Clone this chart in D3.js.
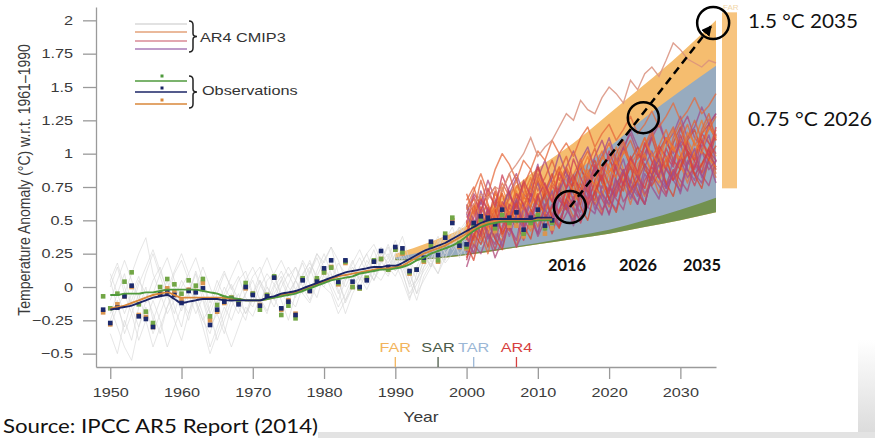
<!DOCTYPE html>
<html><head><meta charset="utf-8">
<script src="https://cdn.jsdelivr.net/npm/d3@7"></script>
<style>body{margin:0;background:#fff}svg{display:block}</style>
</head><body>
<svg id="c" width="875" height="438"></svg>
<script>
// ---------------- DATA ----------------
const xTicks = [1950,1960,1970,1980,1990,2000,2010,2020,2030];
const yTicks = [-0.5,-0.25,0,0.25,0.5,0.75,1,1.25,1.5,1.75,2];

// Projection ranges of earlier assessments (FAR, SAR, TAR)
const rangeYears = [1990,1995,2000,2005,2010,2015,2020,2025,2030,2035];
const farUpper = [0.25,0.34,0.46,0.67,0.89,1.08,1.30,1.52,1.75,2.00];
const farLower = [0.20,0.21,0.24,0.28,0.32,0.36,0.40,0.45,0.50,0.56];
const sarUpper = [0.22,0.26,0.32,0.40,0.50,0.60,0.70,0.80,0.90,1.00];
const sarLower = [0.20,0.21,0.24,0.28,0.32,0.36,0.40,0.45,0.50,0.56];
const tarUpper = [0.22,0.28,0.36,0.48,0.65,0.85,1.05,1.27,1.47,1.66];
const tarLower = [0.21,0.22,0.25,0.29,0.33,0.38,0.43,0.50,0.58,0.67];
const farBar2035 = [0.74, 2.06];

// Assessment reports: year marks on the axis
const reportNames = ["FAR","SAR","TAR","AR4"];
const reportYears = [1990,1996,2001,2007];

// CMIP3 20th-century runs (grey), 1950-2010
const grayStart = 1950;
const grayRuns = [
 [-0.20,-0.05,0.10,-0.15,-0.30,-0.10,0.05,0.15,-0.05,-0.20,0.00,0.10,-0.10,-0.25,-0.35,-0.15,0.00,-0.10,0.05,0.12,-0.05,-0.15,0.05,0.10,-0.08,0.02,0.15,0.05,-0.05,0.12,0.25,0.10,-0.05,0.08,0.20,0.05,0.15,0.28,0.12,0.22,0.35,0.20,0.00,0.05,0.20,0.30,0.18,0.35,0.45,0.30,0.40,0.50,0.35,0.45,0.55,0.42,0.50,0.60,0.45,0.52,0.62],
 [0.05,-0.15,-0.30,-0.10,0.05,-0.05,-0.20,-0.35,-0.15,0.00,-0.10,-0.25,-0.05,0.08,-0.20,-0.40,-0.25,-0.10,-0.20,-0.05,0.05,-0.10,-0.20,0.00,0.08,-0.05,0.05,0.18,0.02,-0.08,0.10,0.20,0.05,-0.10,0.05,0.15,0.25,0.10,0.20,0.32,0.18,0.05,-0.10,0.10,0.25,0.15,0.30,0.20,0.38,0.45,0.30,0.42,0.55,0.40,0.35,0.50,0.58,0.45,0.40,0.55,0.48],
 [-0.35,-0.50,-0.25,-0.40,-0.15,0.00,-0.25,-0.10,0.05,-0.15,-0.30,-0.05,0.10,-0.10,-0.30,-0.20,-0.35,-0.15,-0.05,-0.20,-0.10,0.05,-0.05,-0.15,0.00,0.10,-0.02,0.08,0.20,0.05,0.00,0.15,0.05,-0.12,0.00,0.10,0.02,0.15,0.28,0.15,0.25,0.10,-0.05,0.05,0.15,0.28,0.38,0.25,0.32,0.45,0.35,0.28,0.42,0.52,0.40,0.48,0.38,0.55,0.62,0.50,0.58],
 [0.00,0.15,-0.05,0.10,0.25,0.37,0.10,-0.05,-0.20,-0.10,0.05,-0.05,0.12,-0.05,-0.20,-0.05,0.10,0.00,-0.15,-0.05,0.08,0.15,0.00,-0.10,0.05,0.15,0.05,-0.05,0.10,0.22,0.08,0.02,-0.10,0.05,0.18,0.28,0.15,0.05,0.20,0.30,0.15,0.25,0.12,-0.05,0.15,0.22,0.30,0.40,0.28,0.36,0.48,0.35,0.45,0.38,0.52,0.44,0.58,0.48,0.55,0.65,0.50],
 [-0.15,-0.30,-0.45,-0.55,-0.30,-0.15,-0.35,-0.20,-0.05,-0.25,-0.40,-0.20,-0.05,-0.20,-0.45,-0.30,-0.15,-0.25,-0.10,-0.20,-0.05,-0.12,0.00,-0.08,-0.20,-0.05,0.05,-0.05,-0.12,0.02,0.12,-0.02,-0.15,-0.05,0.08,0.00,0.12,0.05,0.15,0.08,0.20,0.12,-0.08,0.02,0.12,0.20,0.10,0.22,0.35,0.25,0.32,0.42,0.30,0.38,0.48,0.35,0.45,0.52,0.42,0.55,0.46],
 [-0.10,0.05,0.20,0.05,-0.10,0.10,0.25,0.08,-0.08,0.10,0.20,0.05,-0.10,-0.25,-0.15,0.00,0.12,-0.02,0.08,-0.08,-0.15,0.00,0.10,0.02,0.12,0.00,-0.08,0.10,0.18,0.08,0.20,0.30,0.10,0.00,0.12,0.22,0.10,0.20,0.30,0.22,0.12,0.28,0.18,0.05,0.20,0.35,0.25,0.38,0.30,0.45,0.38,0.50,0.42,0.55,0.48,0.40,0.52,0.60,0.50,0.45,0.58],
 [-0.25,-0.10,-0.35,-0.20,-0.05,-0.25,-0.45,-0.30,-0.15,-0.05,-0.18,0.00,-0.12,-0.30,-0.50,-0.35,-0.20,-0.05,-0.15,-0.25,-0.05,0.05,-0.10,0.02,-0.10,-0.25,-0.05,0.05,0.15,0.00,0.05,0.10,-0.02,-0.20,-0.05,0.05,0.15,0.05,0.18,0.25,0.12,0.22,0.05,-0.10,0.08,0.18,0.10,0.28,0.40,0.22,0.35,0.28,0.40,0.50,0.42,0.35,0.48,0.55,0.45,0.60,0.52],
 [0.10,-0.05,-0.20,-0.05,0.08,-0.12,-0.05,0.10,0.22,0.05,-0.10,-0.20,0.00,0.15,0.00,-0.15,-0.05,0.08,0.20,0.05,-0.05,0.10,0.22,0.08,-0.05,-0.12,0.05,0.20,0.10,0.25,0.15,0.05,0.18,0.10,0.02,0.15,0.25,0.32,0.20,0.10,0.25,0.38,0.20,0.10,0.25,0.15,0.32,0.40,0.30,0.38,0.48,0.40,0.35,0.45,0.52,0.58,0.45,0.50,0.62,0.52,0.58],
 [-0.30,-0.15,-0.05,-0.20,-0.40,-0.25,-0.10,-0.25,-0.45,-0.30,-0.15,-0.05,-0.20,-0.08,-0.25,-0.10,-0.30,-0.45,-0.30,-0.15,-0.22,-0.08,-0.18,-0.05,0.05,-0.08,-0.15,0.00,-0.10,0.05,0.00,-0.05,-0.20,-0.10,0.00,0.08,-0.02,0.10,0.05,0.15,0.08,0.20,0.10,-0.05,0.05,0.15,0.28,0.18,0.25,0.35,0.22,0.30,0.40,0.32,0.45,0.38,0.42,0.50,0.40,0.48,0.55],
 [0.05,0.18,0.00,-0.15,0.02,0.15,0.28,0.12,-0.02,0.12,0.25,0.10,0.22,0.05,-0.12,0.05,-0.08,0.02,-0.10,0.05,0.15,0.02,-0.08,0.10,0.20,0.08,0.15,0.00,0.12,0.25,0.18,0.30,0.20,0.05,0.15,0.05,0.20,0.12,0.25,0.18,0.30,0.15,0.02,0.15,0.28,0.20,0.35,0.25,0.32,0.42,0.50,0.38,0.45,0.40,0.50,0.55,0.48,0.60,0.52,0.58,0.62]
];

// AR4 CMIP3 projections, 2000-2035
const ar4Start = 2000;
const ar4Runs = [
 [.35,.62,.48,.30,.55,.70,.52,.45,.68,.60,.80,.66,.52,.75,.88,.70,.62,.85,.95,.78,.70,.92,1.05,.90,.82,1.00,1.12,.95,.88,1.08,1.20,1.02,.95,1.15,1.22,1.10],
 [.50,.30,.55,.62,.40,.35,.60,.72,.50,.42,.58,.75,.68,.50,.62,.80,.74,.60,.72,.90,.84,.70,.78,.98,.86,.74,.92,1.05,.96,.82,.95,1.10,1.00,.90,1.05,1.18],
 [.60,.45,.72,.55,.65,.48,.70,.82,.60,.75,.92,.70,.82,1.00,.85,.78,.95,1.05,.88,.98,1.12,.95,1.02,1.18,1.05,.98,1.15,1.25,1.08,1.15,1.28,1.12,1.20,1.35,1.22,1.30],
 [.20,.38,.55,.42,.28,.45,.60,.48,.35,.52,.66,.55,.40,.58,.72,.60,.48,.65,.78,.66,.55,.72,.85,.74,.62,.80,.90,.82,.70,.86,.98,.88,.76,.92,1.02,.95],
 [.45,.58,.40,.25,.48,.62,.45,.30,.55,.70,.58,.42,.60,.78,.62,.48,.68,.85,.70,.55,.75,.90,.78,.62,.82,.98,.85,.70,.90,1.05,.92,.78,.95,1.10,1.00,.85],
 [.55,.70,.62,.80,.66,.58,.75,.85,.70,.64,.82,.95,.78,.72,.90,1.02,.88,.80,.98,1.10,.95,.88,1.05,1.15,1.00,.95,1.12,1.22,1.08,1.00,1.18,1.28,1.12,1.05,1.22,1.30],
 [.30,.48,.35,.52,.60,.38,.55,.65,.48,.58,.45,.62,.70,.55,.65,.52,.68,.76,.62,.72,.60,.78,.85,.70,.80,.68,.85,.92,.78,.88,.75,.92,1.00,.85,.95,.82],
 [.48,.35,.60,.50,.72,.55,.42,.65,.78,.58,.50,.72,.85,.65,.58,.80,.92,.72,.65,.88,.98,.80,.72,.95,1.05,.88,.80,1.02,1.12,.95,.88,1.10,1.18,1.02,.95,1.15],
 [.40,.55,.68,.45,.52,.75,.60,.50,.70,.82,.65,.58,.78,.90,.72,.66,.85,.98,.80,.74,.92,1.05,.88,.80,.98,1.12,.95,.86,1.05,1.18,1.00,.92,1.10,1.25,1.08,.98],
 [.62,.50,.40,.58,.45,.52,.38,.55,.62,.45,.68,.55,.48,.66,.58,.50,.72,.60,.55,.76,.66,.58,.80,.70,.62,.85,.75,.66,.90,.80,.72,.95,.85,.78,1.00,.90],
 [.28,.45,.38,.60,.50,.42,.62,.56,.48,.70,.62,.55,.76,.68,.60,.82,.74,.66,.88,.80,.72,.94,.86,.78,1.00,.92,.84,1.06,.98,.90,1.10,1.02,.95,1.15,1.08,1.00],
 [.52,.62,.45,.68,.75,.58,.66,.80,.62,.72,.85,.68,.78,.90,.75,.84,.96,.80,.90,1.02,.86,.95,1.08,.92,1.00,1.12,.98,1.06,1.18,1.02,1.10,1.22,1.06,1.15,1.26,1.12],
 [.38,.25,.50,.40,.32,.55,.45,.35,.60,.50,.40,.62,.55,.45,.66,.58,.50,.70,.62,.54,.75,.66,.58,.80,.70,.62,.84,.76,.68,.88,.80,.72,.92,.84,.76,.95],
 [.65,.75,.58,.70,.62,.78,.68,.60,.76,.88,.72,.82,.95,.80,.90,.78,.92,1.02,.88,.96,1.08,.92,1.00,1.10,.96,1.05,1.15,1.00,1.10,1.20,1.05,1.12,1.25,1.10,1.18,1.28],
 [.22,.40,.32,.46,.58,.40,.50,.62,.45,.55,.70,.52,.60,.74,.58,.66,.78,.62,.70,.84,.66,.75,.88,.72,.80,.92,.76,.85,.96,.80,.88,1.00,.84,.92,1.04,.88],
 [.45,.60,.52,.38,.62,.70,.56,.48,.68,.76,.62,.55,.75,.82,.68,.60,.80,.88,.74,.68,.86,.94,.80,.72,.92,1.00,.86,.78,.96,1.06,.90,.84,1.02,1.10,.96,.90],
 [.55,.42,.65,.48,.36,.60,.72,.52,.44,.66,.78,.58,.50,.72,.84,.64,.56,.78,.90,.70,.62,.84,.96,.76,.68,.90,1.02,.82,.74,.96,1.08,.88,.80,1.02,1.14,.94],
 [.42,.52,.66,.58,.44,.64,.54,.70,.62,.50,.68,.78,.64,.56,.74,.84,.70,.62,.80,.90,.76,.68,.86,.96,.82,.74,.92,1.02,.88,.80,.98,1.08,.94,.86,1.04,1.14],
 [.60,.72,.85,.70,.88,1.00,.92,.80,.95,.88,1.02,.95,1.10,1.00,1.08,.98,1.12,1.20,1.05,1.15,1.22,1.10,1.18,1.28,1.15,1.22,1.32,1.20,1.28,1.38,1.25,1.32,1.42,1.30,1.36,1.45],
 [.15,.32,.25,.40,.22,.35,.48,.30,.42,.55,.38,.50,.62,.45,.55,.68,.52,.60,.72,.58,.66,.80,.64,.72,.85,.70,.78,.92,.76,.84,.96,.82,.90,1.02,.88,.95],
 [.70,.55,.80,.62,.50,.72,.85,.66,.58,.78,.90,.72,.64,.86,.98,.80,.70,.92,1.04,.86,.78,1.00,1.10,.92,.84,1.06,1.18,.98,.90,1.12,1.24,1.05,.96,1.18,1.30,1.10],
 [.32,.20,.42,.55,.36,.28,.50,.64,.46,.36,.58,.70,.52,.44,.66,.78,.60,.50,.72,.84,.66,.56,.78,.90,.72,.62,.84,.96,.78,.68,.90,1.02,.84,.74,.96,1.06],
 [.58,.66,.52,.44,.70,.62,.54,.76,.68,.60,.82,.74,.66,.88,.80,.72,.92,.84,.76,.98,.90,.82,1.02,.94,.86,1.08,1.00,.92,1.12,1.04,.96,1.16,1.08,1.00,1.20,1.12],
 [.26,.44,.58,.36,.46,.30,.52,.66,.44,.56,.40,.60,.72,.50,.62,.46,.68,.80,.58,.70,.54,.76,.88,.66,.78,.62,.84,.96,.74,.86,.70,.92,1.04,.82,.94,.78],
 [.48,.68,.56,.74,.60,.84,.70,.58,.80,.68,.90,.76,.64,.86,.74,.96,.82,.70,.92,.80,1.02,.88,.76,.98,.86,1.08,.94,.82,1.04,.92,1.14,1.00,.88,1.10,.98,1.20]
];
const ar4Outlier = [.55,.62,.70,.66,.75,.72,.85,.92,1.00,1.12,.98,1.05,1.10,1.20,1.30,1.25,1.40,1.33,1.30,1.42,1.50,1.45,1.38,1.55,1.48,1.60,1.65,1.58,1.70,1.83,1.78,1.71,1.68,1.65,1.70,1.68];

// Observations (annual), 1949-2012
const obsStart = 1949;
const obsGreen = [-0.07,-0.16,-0.05,0.04,0.11,-0.13,-0.185,-0.27,0.00,0.06,0.02,-0.05,0.05,0.01,0.06,-0.22,-0.135,-0.08,-0.08,-0.10,0.03,-0.05,-0.17,-0.06,0.08,-0.21,-0.14,-0.235,0.065,-0.02,0.065,0.11,0.145,0.03,0.19,0.00,-0.01,0.07,0.20,0.21,0.13,0.28,0.26,0.11,0.13,0.20,0.31,0.20,0.40,0.52,0.33,0.30,0.46,0.50,0.50,0.44,0.54,0.48,0.50,0.40,0.48,0.54,0.44,0.48];
const obsOrange = [-0.19,-0.28,-0.13,-0.07,0.00,-0.21,-0.225,-0.30,-0.05,-0.01,-0.04,-0.10,-0.02,-0.03,0.03,-0.25,-0.185,-0.12,-0.08,-0.12,-0.01,-0.05,-0.135,-0.06,0.07,-0.17,-0.10,-0.20,0.06,-0.03,0.05,0.11,0.15,0.02,0.18,0.00,-0.01,0.06,0.19,0.21,0.13,0.28,0.25,0.10,0.13,0.19,0.31,0.19,0.38,0.50,0.30,0.29,0.44,0.48,0.48,0.42,0.50,0.46,0.46,0.38,0.46,0.52,0.40,0.44];
const obsBlue = [-0.17,-0.27,-0.155,-0.07,0.01,-0.22,-0.24,-0.30,-0.05,-0.04,-0.06,-0.12,-0.03,-0.04,-0.01,-0.285,-0.17,-0.11,-0.09,-0.13,0.00,-0.06,-0.14,-0.07,0.07,-0.16,-0.11,-0.21,0.05,-0.03,0.04,0.14,0.20,0.04,0.20,0.04,0.00,0.05,0.19,0.27,0.15,0.30,0.29,0.12,0.13,0.22,0.34,0.24,0.37,0.48,0.31,0.32,0.48,0.53,0.52,0.47,0.58,0.52,0.56,0.43,0.52,0.58,0.46,0.50];

// Observations (smoothed), 1950-2012
const smoothStart = 1950;
const smoothGreen = [-0.06,-0.06,-0.05,-0.05,-0.05,-0.04,-0.04,-0.03,-0.02,-0.02,-0.02,-0.02,-0.02,-0.03,-0.04,-0.05,-0.07,-0.08,-0.09,-0.10,-0.10,-0.10,-0.09,-0.08,-0.07,-0.06,-0.05,-0.03,-0.01,0.01,0.03,0.05,0.06,0.07,0.08,0.10,0.11,0.12,0.13,0.13,0.14,0.15,0.17,0.20,0.22,0.25,0.27,0.29,0.31,0.34,0.38,0.42,0.45,0.47,0.48,0.49,0.49,0.49,0.49,0.49,0.50,0.50,0.50];
const smoothBlue = [-0.17,-0.16,-0.15,-0.14,-0.12,-0.10,-0.08,-0.07,-0.06,-0.09,-0.12,-0.11,-0.10,-0.09,-0.09,-0.09,-0.10,-0.10,-0.10,-0.10,-0.10,-0.10,-0.08,-0.07,-0.05,-0.04,-0.03,-0.01,0.01,0.03,0.05,0.07,0.09,0.11,0.12,0.13,0.14,0.15,0.15,0.16,0.16,0.18,0.21,0.24,0.27,0.29,0.31,0.33,0.36,0.39,0.42,0.45,0.48,0.50,0.51,0.51,0.51,0.51,0.51,0.51,0.52,0.52,0.52];
const smoothOrange = [-0.16,-0.15,-0.14,-0.12,-0.10,-0.08,-0.06,-0.05,-0.04,-0.06,-0.08,-0.08,-0.08,-0.08,-0.08,-0.08,-0.08,-0.09,-0.09,-0.10,-0.10,-0.10,-0.09,-0.08,-0.06,-0.05,-0.04,-0.02,0.00,0.02,0.04,0.06,0.08,0.09,0.10,0.11,0.12,0.13,0.14,0.14,0.15,0.16,0.19,0.22,0.25,0.27,0.29,0.31,0.34,0.37,0.40,0.43,0.46,0.48,0.49,0.50,0.50,0.50,0.50,0.50,0.50,0.51,0.51];

// Annotation markers (year, anomaly)
const markYears = [2014.5, 2024.8, 2034.6];
const markValues = [0.60, 1.27, 1.98];

// ---------------- CHART ----------------
const svg = d3.select("#c");
const FONT = "'Liberation Sans', Arial, Helvetica, sans-serif";
const SX = 1.25; // horizontal stretch of the original picture's lettering
const x = d3.scaleLinear().domain([1948, 2035]).range([96, 716]);
const y = d3.scaleLinear().domain([-0.6, 2.1]).range([367, 7]);

// background bands (slide frame)
const defs = svg.append("defs");
const grad = defs.append("linearGradient").attr("id","edge").attr("x1",0).attr("y1",0).attr("x2",0).attr("y2",1);
grad.append("stop").attr("offset","0%").attr("stop-color","#ffffff");
grad.append("stop").attr("offset","100%").attr("stop-color","#dcdcdc");
svg.append("rect").attr("x",858).attr("y",340).attr("width",17).attr("height",92).attr("fill","url(#edge)");
svg.append("rect").attr("x",318).attr("y",432).attr("width",557).attr("height",6).attr("fill","#e3e3e3");

// shaded projection ranges
function band(upper, lower) {
  return d3.area().x((d,i)=>x(rangeYears[i])).y0((d,i)=>y(lower[i])).y1((d,i)=>y(upper[i])).curve(d3.curveMonotoneX)(upper);
}
svg.append("path").attr("d", band(farUpper, farLower)).attr("fill", "#f5bd6f");
svg.append("path").attr("d", band(sarUpper, sarLower)).attr("fill", "#72914f");
svg.append("path").attr("d", band(tarUpper, tarLower)).attr("fill", "#97abbf");
// FAR bar at 2035
svg.append("rect").attr("x", x(2035)+6).attr("width", 15)
  .attr("y", y(farBar2035[1])).attr("height", y(farBar2035[0]) - y(farBar2035[1]))
  .attr("fill", "#f7c47f");
svg.append("text").attr("x", x(2035)+7).attr("y", 10).attr("font-family", FONT)
  .attr("font-size", 8).attr("fill", "#f2d6a8").text("FAR");

// grey CMIP3 runs
const gLine = start => d3.line().x((d,i)=>x(start+i)).y(d=>y(d));
svg.append("g").selectAll("path").data(grayRuns).join("path")
  .attr("d", gLine(grayStart)).attr("fill","none")
  .attr("stroke","#d6d6d6").attr("stroke-opacity",0.6).attr("stroke-width",1);

// AR4 runs
const ar4Palette = ["#d8452f","#ee7a32","#9c4f8f","#cc3f55","#e56a3c","#b0487a","#e0603a"];
svg.append("g").selectAll("path").data(ar4Runs).join("path")
  .attr("d", gLine(ar4Start)).attr("fill","none")
  .attr("stroke",(d,i)=>ar4Palette[i % ar4Palette.length])
  .attr("stroke-opacity",0.75).attr("stroke-width",1.5).attr("stroke-linejoin","round");
svg.append("path").datum(ar4Outlier).attr("d", gLine(ar4Start)).attr("fill","none")
  .attr("stroke","#d9907e").attr("stroke-opacity",0.85).attr("stroke-width",1.4);

// observations: squares
const sq = 4.6;
[[obsOrange,"#d99550"],[obsGreen,"#72a646"],[obsBlue,"#1c2a6e"]].forEach(([arr,col])=>{
  svg.append("g").selectAll("rect").data(arr).join("rect")
    .attr("x",(d,i)=>x(obsStart+i)-sq/2).attr("y",d=>y(d)-sq/2)
    .attr("width",sq).attr("height",sq).attr("fill",col);
});
// observations: smoothed lines
[[smoothOrange,"#d9873a"],[smoothGreen,"#4f9a3c"],[smoothBlue,"#1b2466"]].forEach(([arr,col])=>{
  svg.append("path").datum(arr).attr("d", gLine(smoothStart).curve(d3.curveMonotoneX))
    .attr("fill","none").attr("stroke",col).attr("stroke-width",1.9);
});

// axes
const axisCol = "#9a9a9a", txtCol = "#3a3a3a";
const gx = svg.append("g").attr("transform","translate(0,367)")
  .call(d3.axisBottom(x).tickValues(xTicks).tickFormat(d3.format("d")).tickSize(12).tickPadding(9).tickSizeOuter(0));
const gy = svg.append("g").attr("transform","translate(96,0)")
  .call(d3.axisLeft(y).tickValues(yTicks).tickSize(13).tickPadding(10).tickSizeOuter(0)
    .tickFormat(d => (d < 0 ? "\u2212" : "") + Math.abs(d)));
[gx, gy].forEach(g => {
  g.select(".domain").attr("stroke", axisCol).attr("stroke-width", 1.3);
  g.selectAll(".tick line").attr("stroke", axisCol).attr("stroke-width", 1.3);
  g.selectAll("text").attr("font-family", FONT).attr("font-size", 13).attr("fill", txtCol);
});
gx.selectAll("text").attr("transform", `scale(${SX},1)`);
gy.selectAll("text").attr("x", -23 / SX).attr("transform", `scale(${SX},1)`);

// axis titles
function sText(px, py, str, opts = {}) {
  return svg.append("text").attr("x", px / SX).attr("y", py)
    .attr("transform", `scale(${SX},1)`).attr("font-family", FONT)
    .attr("font-size", opts.size || 13).attr("fill", opts.fill || txtCol)
    .attr("text-anchor", opts.anchor || "start").text(str);
}
sText(421, 422, "Year", {size: 14, anchor: "middle"});
svg.append("text").attr("transform", "translate(30,180) rotate(-90) scale(1,1.2)")
  .attr("text-anchor","middle").attr("font-family",FONT).attr("font-size",14)
  .attr("fill",txtCol).text("Temperature Anomaly (\u00B0C) w.r.t. 1961\u20131990");

// assessment report markers
const reportCols = ["#f2b45c","#4b5a48","#9bb7d6","#d64040"];
reportYears.forEach((yr,i)=>{
  svg.append("line").attr("x1",x(yr)).attr("x2",x(yr)).attr("y1",357).attr("y2",367)
    .attr("stroke",reportCols[i]).attr("stroke-width",1.3);
  sText(x(yr), 352, reportNames[i], {anchor:"middle", fill: reportCols[i]});
});

// legend
const lx0 = 135, lx1 = 187;
const legAR4 = [["#d9d9d9",24],["#e3a27a",32],["#d98a96",41],["#a97bb9",49]];
legAR4.forEach(([c,ly]) => svg.append("line").attr("x1",lx0).attr("x2",lx1).attr("y1",ly).attr("y2",ly)
  .attr("stroke",c).attr("stroke-width",1.6));
const legObs = [["#4f9a3c",81,76],["#1b2466",92,88],["#d9873a",104,100]];
legObs.forEach(([c,ly,dy]) => {
  svg.append("line").attr("x1",lx0).attr("x2",lx1).attr("y1",ly).attr("y2",ly).attr("stroke",c).attr("stroke-width",1.6);
  svg.append("rect").attr("x",160.5).attr("y",dy-1.5).attr("width",3).attr("height",3).attr("fill",c);
});
function brace(bx, y0, y1) {
  const ym = (y0 + y1) / 2;
  return `M${bx},${y0} q4,0 4,4 L${bx+4},${ym-3} q0,3 4,3 q-4,0 -4,3 L${bx+4},${y1-4} q0,4 -4,4`;
}
svg.append("path").attr("d", brace(189, 21, 52)).attr("fill","none").attr("stroke","#222").attr("stroke-width",1.5);
svg.append("path").attr("d", brace(189, 76, 108)).attr("fill","none").attr("stroke","#222").attr("stroke-width",1.5);
sText(200, 42, "AR4 CMIP3", {fill:"#333"});
sText(202, 95, "Observations", {fill:"#333"});

// annotations
const ANN = "Lato, 'Open Sans', sans-serif";
defs.append("marker").attr("id","arr").attr("viewBox","0 0 10 10").attr("refX",9).attr("refY",5)
  .attr("markerWidth",4.2).attr("markerHeight",4.2).attr("orient","auto")
  .append("path").attr("d","M0,0 L10,5 L0,10 z").attr("fill","#000");
const mx = markYears.map(x), my = markValues.map(y);
svg.append("line").attr("x1",mx[0]).attr("y1",my[0]).attr("x2",mx[2]-2).attr("y2",my[2]+3)
  .attr("stroke","#000").attr("stroke-width",2.5).attr("stroke-dasharray","8,5").attr("marker-end","url(#arr)");
const radii = [16, 15.5, 16];
markYears.forEach((d,i)=>svg.append("circle").attr("cx",mx[i]).attr("cy",my[i]).attr("r",radii[i])
  .attr("fill","none").attr("stroke","#000").attr("stroke-width",2.5));

svg.append("text").attr("x",748).attr("y",28).attr("font-family",ANN).attr("font-size",20)
  .attr("textLength",110).attr("lengthAdjust","spacingAndGlyphs").attr("fill","#111").text("1.5 \u00B0C 2035");
svg.append("text").attr("x",748).attr("y",126).attr("font-family",ANN).attr("font-size",20)
  .attr("textLength",124).attr("lengthAdjust","spacingAndGlyphs").attr("fill","#111").text("0.75 \u00B0C 2026");
const yrLabels = [["2016",567],["2026",638],["2035",702]];
yrLabels.forEach(([t,cx])=>svg.append("text").attr("x",cx).attr("y",271).attr("text-anchor","middle")
  .attr("font-family",ANN).attr("font-weight","bold").attr("font-size",17)
  .attr("textLength",38).attr("lengthAdjust","spacingAndGlyphs").attr("fill","#111").text(t));
svg.append("text").attr("x",3).attr("y",433).attr("font-family",ANN).attr("font-size",20)
  .attr("textLength",315).attr("lengthAdjust","spacingAndGlyphs").attr("fill","#111")
  .text("Source: IPCC AR5 Report (2014)");
</script>
</body></html>
